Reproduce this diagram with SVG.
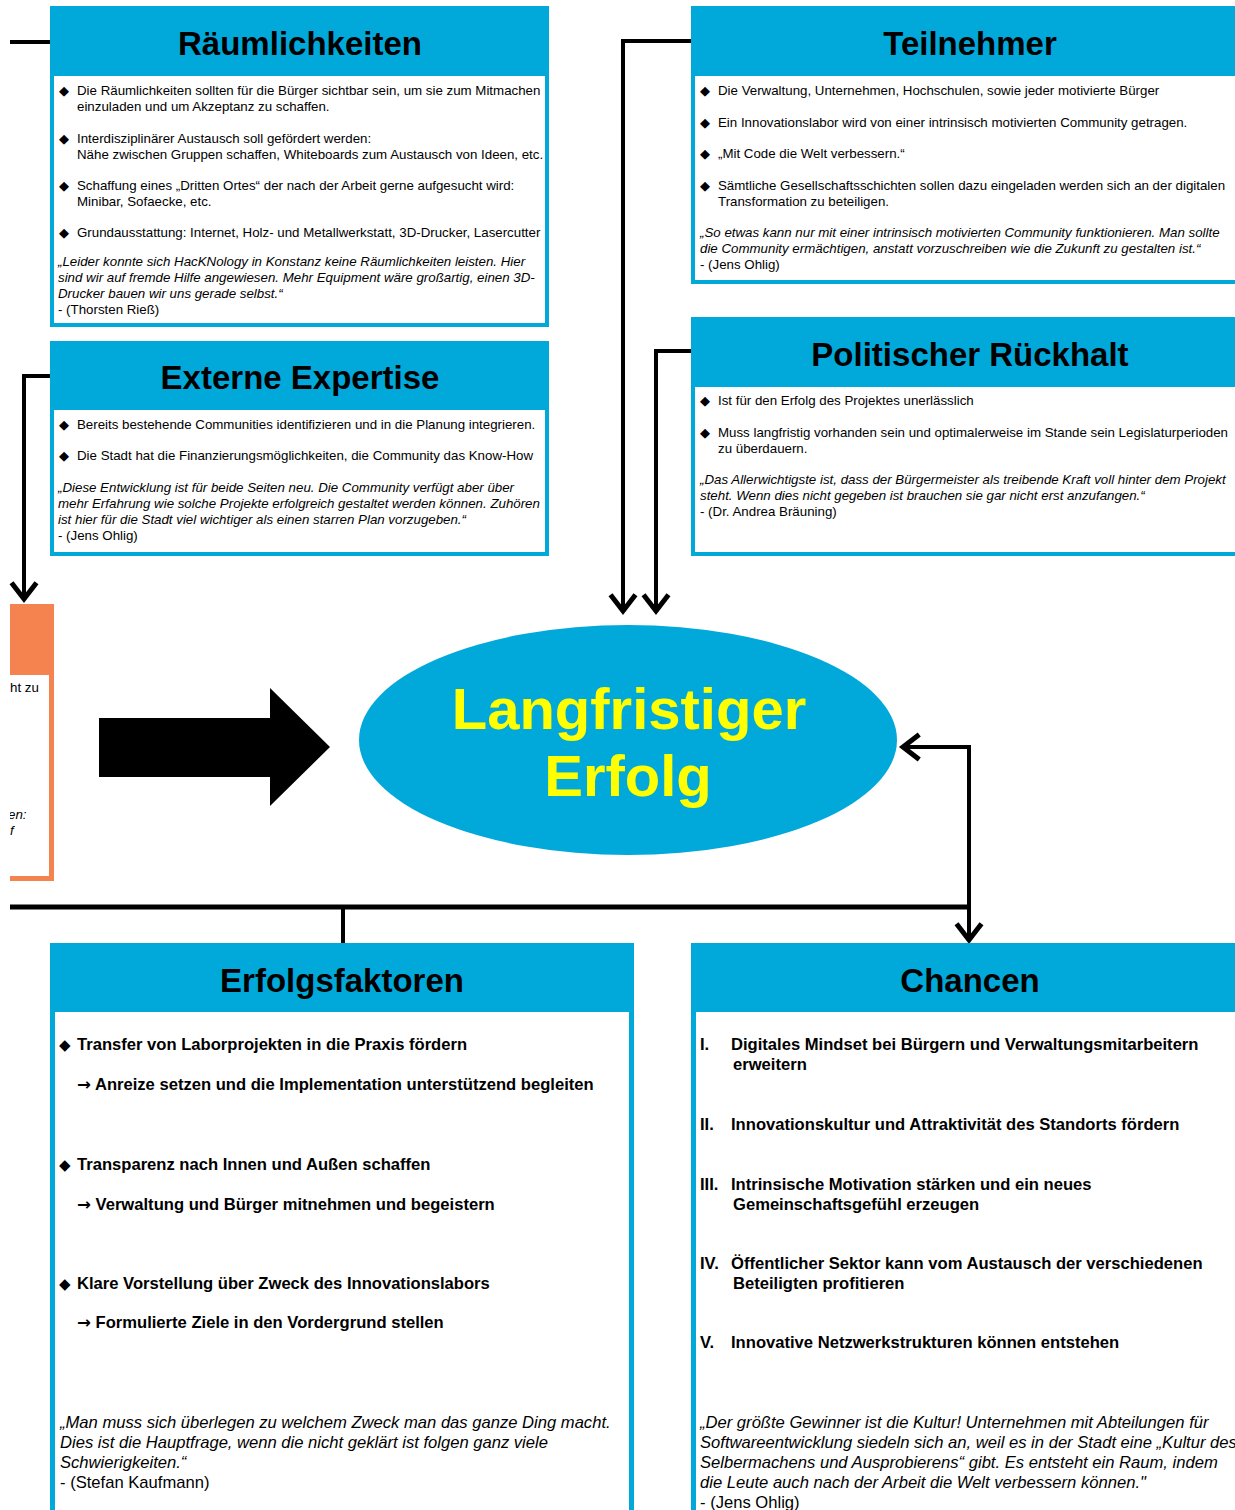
<svg xmlns="http://www.w3.org/2000/svg" width="1235" height="1510" viewBox="0 0 1235 1510">
<style>
.box{fill:#00A9DA}
.body{fill:#fff}
.title{font-family:"Liberation Sans",Arial,sans-serif;font-weight:bold;font-size:33px;fill:#000;text-anchor:middle}
.t{font-family:"Liberation Sans",Arial,sans-serif;font-size:13.3px;fill:#000}
.q{font-family:"Liberation Sans",Arial,sans-serif;font-size:13.3px;font-style:italic;fill:#000}
.b{font-family:"Liberation Sans",Arial,sans-serif;font-size:16.6px;font-weight:bold;fill:#000}
.qb{font-family:"Liberation Sans",Arial,sans-serif;font-size:16.6px;font-style:italic;fill:#000}
.tb{font-family:"Liberation Sans",Arial,sans-serif;font-size:16.6px;fill:#000}
.dia{font-family:"DejaVu Sans",sans-serif;font-size:13px;fill:#000}
.diab{font-family:"DejaVu Sans",sans-serif;font-size:15px;fill:#000}
.arr{font-family:"DejaVu Sans",sans-serif;font-weight:bold}
.big{font-family:"Liberation Sans",Arial,sans-serif;font-weight:bold;font-size:58px;fill:#FFFF00;text-anchor:middle}
.con{fill:none;stroke:#000;stroke-width:4}
</style>
<defs>
<marker id="ah" markerUnits="userSpaceOnUse" markerWidth="30" markerHeight="30" refX="0" refY="0" viewBox="-16 -12 20 24" orient="auto-start-reverse">
<path d="M-13,-10 L0,0 L-13,10" fill="none" stroke="#000" stroke-width="4"/>
</marker>
<clipPath id="clipL"><rect x="10" y="560" width="100" height="340"/></clipPath>
</defs>
<rect width="1235" height="1510" fill="#fff"/>

<g id="connectors">
<path class="con" d="M10,42 H50"/>
<path class="con" d="M691,41 H623 V611" marker-end="url(#ah)"/>
<path class="con" d="M691,351 H656 V611" marker-end="url(#ah)"/>
<path class="con" d="M50,376 H24 V599" marker-end="url(#ah)"/>
<path class="con" d="M10,907 H969" style="stroke-width:5"/>
<path class="con" d="M343,907 V943"/>
<path class="con" d="M969,940 V747 H903" marker-start="url(#ah)" marker-end="url(#ah)"/>
<polygon points="99,718 270,718 270,688 330,747 270,806 270,777 99,777" fill="#000"/>
</g>

<g id="raeumlichkeiten">
<rect class="box" x="50" y="6" width="499" height="321"/>
<rect class="body" x="54" y="76" width="491" height="247"/>
<text class="title" x="300" y="55">Räumlichkeiten</text>
<text class="dia" x="59" y="95">◆</text><text class="t" x="77" y="95">Die Räumlichkeiten sollten für die Bürger sichtbar sein, um sie zum Mitmachen</text>
<text class="t" x="77" y="111">einzuladen und um Akzeptanz zu schaffen.</text>
<text class="dia" x="59" y="143">◆</text><text class="t" x="77" y="143">Interdisziplinärer Austausch soll gefördert werden:</text>
<text class="t" x="77" y="159">Nähe zwischen Gruppen schaffen, Whiteboards zum Austausch von Ideen, etc.</text>
<text class="dia" x="59" y="190">◆</text><text class="t" x="77" y="190">Schaffung eines „Dritten Ortes“ der nach der Arbeit gerne aufgesucht wird:</text>
<text class="t" x="77" y="206">Minibar, Sofaecke, etc.</text>
<text class="dia" x="59" y="237">◆</text><text class="t" x="77" y="237">Grundausstattung: Internet, Holz- und Metallwerkstatt, 3D-Drucker, Lasercutter</text>
<text class="q" x="58" y="266">„Leider konnte sich HacKNology in Konstanz keine Räumlichkeiten leisten. Hier</text>
<text class="q" x="58" y="282">sind wir auf fremde Hilfe angewiesen. Mehr Equipment wäre großartig, einen 3D-</text>
<text class="q" x="58" y="298">Drucker bauen wir uns gerade selbst.“</text>
<text class="t" x="58" y="314">- (Thorsten Rieß)</text>
</g>

<g id="teilnehmer">
<rect class="box" x="691" y="6" width="560" height="278"/>
<rect class="body" x="695" y="76" width="560" height="204"/>
<text class="title" x="970" y="55">Teilnehmer</text>
<text class="dia" x="700" y="95">◆</text><text class="t" x="718" y="95">Die Verwaltung, Unternehmen, Hochschulen, sowie jeder motivierte Bürger</text>
<text class="dia" x="700" y="127">◆</text><text class="t" x="718" y="127">Ein Innovationslabor wird von einer intrinsisch motivierten Community getragen.</text>
<text class="dia" x="700" y="158">◆</text><text class="t" x="718" y="158">„Mit Code die Welt verbessern.“</text>
<text class="dia" x="700" y="190">◆</text><text class="t" x="718" y="190">Sämtliche Gesellschaftsschichten sollen dazu eingeladen werden sich an der digitalen</text>
<text class="t" x="718" y="206">Transformation zu beteiligen.</text>
<text class="q" x="700" y="237">„So etwas kann nur mit einer intrinsisch motivierten Community funktionieren. Man sollte</text>
<text class="q" x="700" y="253">die Community ermächtigen, anstatt vorzuschreiben wie die Zukunft zu gestalten ist.“</text>
<text class="t" x="700" y="269">- (Jens Ohlig)</text>
</g>

<g id="externe-expertise">
<rect class="box" x="50" y="341" width="499" height="215"/>
<rect class="body" x="54" y="410" width="491" height="142"/>
<text class="title" x="300" y="389">Externe Expertise</text>
<text class="dia" x="59" y="429">◆</text><text class="t" x="77" y="429">Bereits bestehende Communities identifizieren und in die Planung integrieren.</text>
<text class="dia" x="59" y="460">◆</text><text class="t" x="77" y="460">Die Stadt hat die Finanzierungsmöglichkeiten, die Community das Know-How</text>
<text class="q" x="58" y="492">„Diese Entwicklung ist für beide Seiten neu. Die Community verfügt aber über</text>
<text class="q" x="58" y="508">mehr Erfahrung wie solche Projekte erfolgreich gestaltet werden können. Zuhören</text>
<text class="q" x="58" y="524">ist hier für die Stadt viel wichtiger als einen starren Plan vorzugeben.“</text>
<text class="t" x="58" y="540">- (Jens Ohlig)</text>
</g>

<g id="politischer-rueckhalt">
<rect class="box" x="691" y="317" width="560" height="239"/>
<rect class="body" x="695" y="387" width="560" height="165"/>
<text class="title" x="970" y="366">Politischer Rückhalt</text>
<text class="dia" x="700" y="405">◆</text><text class="t" x="718" y="405">Ist für den Erfolg des Projektes unerlässlich</text>
<text class="dia" x="700" y="437">◆</text><text class="t" x="718" y="437">Muss langfristig vorhanden sein und optimalerweise im Stande sein Legislaturperioden</text>
<text class="t" x="718" y="453">zu überdauern.</text>
<text class="q" x="700" y="484">„Das Allerwichtigste ist, dass der Bürgermeister als treibende Kraft voll hinter dem Projekt</text>
<text class="q" x="700" y="500">steht. Wenn dies nicht gegeben ist brauchen sie gar nicht erst anzufangen.“</text>
<text class="t" x="700" y="516">- (Dr. Andrea Bräuning)</text>
</g>

<g id="orange-box">
<rect x="10" y="604" width="44" height="277" fill="#F4834F"/>
<rect x="10" y="675" width="39" height="201" fill="#fff"/>
<g clip-path="url(#clipL)">
<text class="t" x="10" y="692">ht zu</text>
<text class="q" x="8" y="819">en:</text>
<text class="q" x="10" y="835">f</text>
</g>
</g>

<g id="langfristiger-erfolg">
<ellipse cx="628" cy="740" rx="269" ry="115" fill="#00A9DA"/>
<text class="big" x="629" y="729">Langfristiger</text>
<text class="big" x="628" y="796">Erfolg</text>
</g>

<g id="erfolgsfaktoren">
<rect class="box" x="50" y="943" width="584" height="580"/>
<rect class="body" x="55" y="1012" width="574" height="520"/>
<text class="title" x="342" y="992">Erfolgsfaktoren</text>
<text class="diab" x="59" y="1050">◆</text><text class="b" x="77" y="1050">Transfer von Laborprojekten in die Praxis fördern</text>
<text class="b" x="77" y="1090"><tspan class="arr">→</tspan> Anreize setzen und die Implementation unterstützend begleiten</text>
<text class="diab" x="59" y="1170">◆</text><text class="b" x="77" y="1170">Transparenz nach Innen und Außen schaffen</text>
<text class="b" x="77" y="1210"><tspan class="arr">→</tspan> Verwaltung und Bürger mitnehmen und begeistern</text>
<text class="diab" x="59" y="1289">◆</text><text class="b" x="77" y="1289">Klare Vorstellung über Zweck des Innovationslabors</text>
<text class="b" x="77" y="1328"><tspan class="arr">→</tspan> Formulierte Ziele in den Vordergrund stellen</text>
<text class="qb" x="60" y="1428">„Man muss sich überlegen zu welchem Zweck man das ganze Ding macht.</text>
<text class="qb" x="60" y="1448">Dies ist die Hauptfrage, wenn die nicht geklärt ist folgen ganz viele</text>
<text class="qb" x="60" y="1468">Schwierigkeiten.“</text>
<text class="tb" x="60" y="1488">- (Stefan Kaufmann)</text>
</g>

<g id="chancen">
<rect class="box" x="691" y="943" width="560" height="580"/>
<rect class="body" x="696" y="1012" width="560" height="520"/>
<text class="title" x="970" y="992">Chancen</text>
<text class="b" x="700" y="1050">I.</text><text class="b" x="731" y="1050">Digitales Mindset bei Bürgern und Verwaltungsmitarbeitern</text>
<text class="b" x="733" y="1070">erweitern</text>
<text class="b" x="700" y="1130">II.</text><text class="b" x="731" y="1130">Innovationskultur und Attraktivität des Standorts fördern</text>
<text class="b" x="700" y="1190">III.</text><text class="b" x="731" y="1190">Intrinsische Motivation stärken und ein neues</text>
<text class="b" x="733" y="1210">Gemeinschaftsgefühl erzeugen</text>
<text class="b" x="700" y="1269">IV.</text><text class="b" x="731" y="1269">Öffentlicher Sektor kann vom Austausch der verschiedenen</text>
<text class="b" x="733" y="1289">Beteiligten profitieren</text>
<text class="b" x="700" y="1348">V.</text><text class="b" x="731" y="1348">Innovative Netzwerkstrukturen können entstehen</text>
<text class="qb" x="700" y="1428">„Der größte Gewinner ist die Kultur! Unternehmen mit Abteilungen für</text>
<text class="qb" x="700" y="1448">Softwareentwicklung siedeln sich an, weil es in der Stadt eine „Kultur des</text>
<text class="qb" x="700" y="1468">Selbermachens und Ausprobierens“ gibt. Es entsteht ein Raum, indem</text>
<text class="qb" x="700" y="1488">die Leute auch nach der Arbeit die Welt verbessern können."</text>
<text class="tb" x="700" y="1508">- (Jens Ohlig)</text>
</g>
</svg>
